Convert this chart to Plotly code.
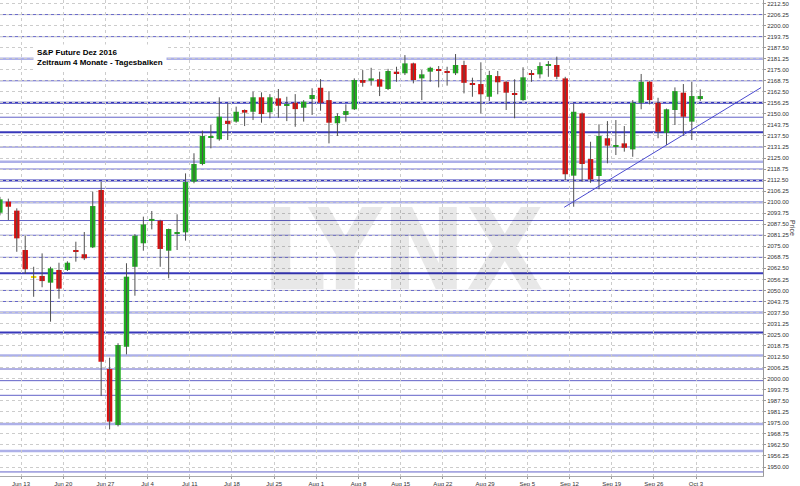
import pandas as pd
import plotly.graph_objects as go

# ---------------- data ----------------
trade_days = pd.bdate_range("2016-06-08", "2016-10-03")  # one daily bar per weekday

opens = [2094.0, 2100.3, 2095.2, 2072.9, 2057.4, 2058.2, 2054.4, 2061.6, 2061.6, 2072.8,
         2070.5, 2074.4, 2106.9, 2005.5, 1973.8, 2018.1, 2063.4, 2076.7, 2089.8, 2089.5,
         2072.5, 2082.3, 2082.9, 2111.6, 2121.6, 2136.8, 2135.6, 2146.1, 2145.6, 2152.2,
         2151.2, 2159.4, 2150.9, 2158.8, 2154.7, 2156.3, 2153.5, 2158.4, 2164.8, 2157.8,
         2144.7, 2149.4, 2152.6, 2169.2, 2168.8, 2169.6, 2164.1, 2173.9, 2173.0, 2178.6,
         2170.1, 2173.9, 2175.0, 2174.3, 2173.0, 2177.7, 2167.0, 2166.9, 2159.7, 2171.4,
         2168.2, 2161.4, 2157.8, 2172.6, 2172.4, 2177.4, 2177.7, 2170.1, 2115.0, 2150.3,
         2124.4, 2114.8, 2136.2, 2131.7, 2133.3, 2129.9, 2156.3, 2168.2, 2156.3, 2139.3,
         2152.2, 2162.0, 2145.6, 2158.4]
highs = [2103.0, 2102.0, 2096.5, 2081.0, 2063.4, 2071.0, 2063.4, 2065.7, 2066.5, 2077.6,
         2083.1, 2105.9, 2111.6, 2011.9, 2020.1, 2065.4, 2081.9, 2091.8, 2095.0, 2090.0,
         2085.0, 2093.1, 2116.3, 2127.7, 2140.5, 2143.7, 2159.4, 2156.0, 2154.1, 2152.5,
         2162.6, 2162.2, 2161.2, 2164.1, 2159.7, 2161.2, 2157.8, 2164.5, 2169.7, 2162.9,
         2150.3, 2155.4, 2170.1, 2174.8, 2176.1, 2173.9, 2175.5, 2176.7, 2183.3, 2179.0,
         2174.8, 2176.7, 2177.1, 2176.7, 2183.9, 2180.1, 2170.5, 2179.2, 2174.4, 2174.3,
         2168.5, 2169.6, 2176.4, 2174.8, 2179.2, 2179.9, 2182.4, 2171.0, 2156.0, 2150.8,
         2134.2, 2144.1, 2145.9, 2146.5, 2143.1, 2157.8, 2172.6, 2168.5, 2159.1, 2153.0,
         2165.0, 2166.9, 2168.2, 2163.9]
lows = [2092.5, 2089.9, 2071.9, 2059.3, 2046.4, 2051.8, 2032.3, 2045.3, 2061.0, 2066.3,
        2067.2, 2074.0, 1990.2, 1971.3, 1973.0, 2013.8, 2047.0, 2072.5, 2084.6, 2063.4,
        2056.9, 2072.9, 2078.2, 2110.7, 2120.9, 2130.5, 2134.8, 2135.2, 2145.0, 2143.1,
        2146.5, 2145.0, 2147.5, 2147.8, 2145.9, 2142.7, 2145.6, 2149.4, 2151.8, 2133.3,
        2137.5, 2145.6, 2152.2, 2165.4, 2166.0, 2160.1, 2163.5, 2168.2, 2172.0, 2167.3,
        2157.8, 2168.2, 2165.0, 2166.0, 2172.0, 2161.6, 2159.7, 2150.3, 2157.3, 2161.1,
        2152.2, 2147.5, 2157.4, 2168.2, 2170.1, 2171.0, 2169.6, 2112.5, 2097.4, 2111.6,
        2111.0, 2107.3, 2122.0, 2126.7, 2128.6, 2125.7, 2152.6, 2155.4, 2136.2, 2132.4,
        2143.7, 2137.5, 2135.2, 2157.3]
closes = [2101.6, 2097.4, 2079.5, 2062.0, 2057.4, 2055.3, 2062.5, 2051.0, 2065.7, 2071.8,
          2068.2, 2097.8, 2009.6, 1975.7, 2019.1, 2057.8, 2081.0, 2087.4, 2090.5, 2073.5,
          2084.8, 2083.0, 2111.4, 2121.6, 2137.5, 2137.4, 2148.4, 2144.3, 2151.2, 2150.7,
          2159.4, 2149.9, 2159.4, 2154.6, 2155.2, 2152.7, 2156.9, 2160.7, 2156.3, 2145.0,
          2148.8, 2151.6, 2169.2, 2167.6, 2170.1, 2165.4, 2174.3, 2172.6, 2178.6, 2169.2,
          2172.4, 2176.1, 2174.4, 2173.7, 2177.7, 2167.6, 2166.4, 2161.1, 2172.0, 2167.9,
          2162.0, 2160.8, 2170.7, 2172.2, 2177.1, 2177.9, 2171.0, 2115.8, 2151.2, 2121.6,
          2112.9, 2137.5, 2132.0, 2132.3, 2130.8, 2156.3, 2168.2, 2157.8, 2139.9, 2152.6,
          2162.9, 2148.4, 2160.1, 2160.1]

# horizontal support / resistance levels
levels_strong = [2156.25, 2139.6, 2112.2, 2059.7, 2026.2]
levels_normal = [2206.25, 2193.75, 2168.75, 2148.1, 2131.25, 2118.75, 2107.8, 2089.6,
                 2081.25, 2068.75, 2050.0, 2043.75, 2005.5, 1998.9, 1990.6, 1947.2]
levels_light = [2181.25, 2122.9, 2100.0, 2037.5, 2013.2, 1974.4, 1959.1]

# rising trend line (two anchor points)
trend_dates = ["2016-09-09 09:00", "2016-10-12 17:00"]
trend_prices = [2097.1, 2164.9]

week_ticks = ["2016-06-13", "2016-06-20", "2016-06-27", "2016-07-04", "2016-07-11",
              "2016-07-18", "2016-07-25", "2016-08-01", "2016-08-08", "2016-08-15",
              "2016-08-22", "2016-08-29", "2016-09-05", "2016-09-12", "2016-09-19",
              "2016-09-26", "2016-10-03"]
week_labels = ["Jun 13", "Jun 20", "Jun 27", "Jul 4", "Jul 11", "Jul 18", "Jul 25",
               "Aug 1", "Aug 8", "Aug 15", "Aug 22", "Aug 29", "Sep 5", "Sep 12",
               "Sep 19", "Sep 26", "Oct 3"]

title_lines = ["S&P Future Dez 2016", "Zeitraum 4 Monate - Tagesbalken"]
watermark = "LYNX"
y_title = "Price"

# ---------------- figure ----------------
centers = [d + pd.Timedelta(hours=12) for d in trade_days]

UP, DOWN, FLAT = "#1fae1f", "#d81010", "#f2d800"
body_colors = [UP if c > o else (DOWN if c < o else FLAT) for o, c in zip(opens, closes)]
body_base = [min(o, c) for o, c in zip(opens, closes)]
body_height = [max(abs(c - o), 0.6) for o, c in zip(opens, closes)]

wick_x, wick_y = [], []
for t, lo, hi in zip(centers, lows, highs):
    wick_x += [t, t, None]
    wick_y += [lo, hi, None]

fig = go.Figure()
fig.add_trace(go.Scatter(x=wick_x, y=wick_y, mode="lines",
                         line=dict(color="#505050", width=1), hoverinfo="skip"))
fig.add_trace(go.Bar(x=centers, y=body_height, base=body_base,
                     width=0.64 * 86400000, marker=dict(color=body_colors, line=dict(width=0)),
                     hoverinfo="skip"))

shapes = []
for lv in levels_light:
    shapes.append(dict(type="line", xref="paper", x0=0, x1=1, yref="y", y0=lv, y1=lv,
                       line=dict(color="#adb0e8", width=2.5), layer="between"))
for lv in levels_normal:
    shapes.append(dict(type="line", xref="paper", x0=0, x1=1, yref="y", y0=lv, y1=lv,
                       line=dict(color="#6262c8", width=1), layer="between"))
for lv in levels_strong:
    shapes.append(dict(type="line", xref="paper", x0=0, x1=1, yref="y", y0=lv, y1=lv,
                       line=dict(color="#3838ba", width=2), layer="between"))
shapes.append(dict(type="line", xref="x", yref="y",
                   x0=trend_dates[0], y0=trend_prices[0], x1=trend_dates[1], y1=trend_prices[1],
                   line=dict(color="#4a4ad0", width=1), layer="above"))

fig.update_layout(
    width=800, height=486,
    margin=dict(l=0, r=37, t=0, b=10),
    paper_bgcolor="white", plot_bgcolor="white",
    showlegend=False,
    shapes=shapes,
    font=dict(family="Liberation Sans, Arial, sans-serif", color="#333333"),
    xaxis=dict(
        type="date",
        range=["2016-06-08 12:15", "2016-10-12 22:30"],
        rangebreaks=[dict(bounds=["sat", "mon"])],
        tickmode="array", tickvals=week_ticks, ticktext=week_labels,
        showgrid=True, gridcolor="#cccccc", griddash="dot", gridwidth=1,
        ticks="outside", ticklen=2, tickcolor="#999999",
        tickfont=dict(size=6, color="#333333"),
        showline=True, linecolor="#aaaaaa", linewidth=1,
        zeroline=False, fixedrange=True,
    ),
    yaxis=dict(
        side="right",
        range=[1944.9, 2214.5],
        tick0=1950, dtick=6.25, tickformat=".2f",
        showgrid=True, gridcolor="#cccccc", griddash="dot", gridwidth=1,
        ticks="outside", ticklen=2, tickcolor="#999999",
        tickfont=dict(size=6, color="#333333"),
        showline=True, linecolor="#999999", linewidth=1,
        zeroline=False, fixedrange=True,
    ),
    annotations=[
        dict(text=watermark, xref="paper", yref="paper", x=403 / 763, y=1 - 250 / 476,
             xanchor="center", yanchor="middle", showarrow=False,
             font=dict(family="Liberation Sans Narrow, DejaVu Sans Condensed, Arial Narrow, sans-serif",
                       size=112, color="rgba(0,0,0,0.09)", weight="bold")),
        dict(text="<b>" + title_lines[0] + "</b><br><b>" + title_lines[1] + "</b>",
             xref="paper", yref="paper", x=33 / 763, y=1 - 44 / 476,
             xanchor="left", yanchor="top", align="left", showarrow=False,
             bgcolor="white", borderpad=3,
             font=dict(family="Liberation Sans, Arial, sans-serif", size=8, color="#000000")),
        dict(text=y_title, xref="paper", yref="paper", x=793 / 763, y=1 - 228 / 476,
             xanchor="center", yanchor="middle", textangle=90, showarrow=False,
             font=dict(family="Liberation Sans, Arial, sans-serif", size=7, color="#333333")),
    ],
)

# remove the browser's default 8px page margin so the figure sits at the window origin
fig.write_html("out.html", config={"displayModeBar": False},
               post_script="document.body.style.margin='0px';")
